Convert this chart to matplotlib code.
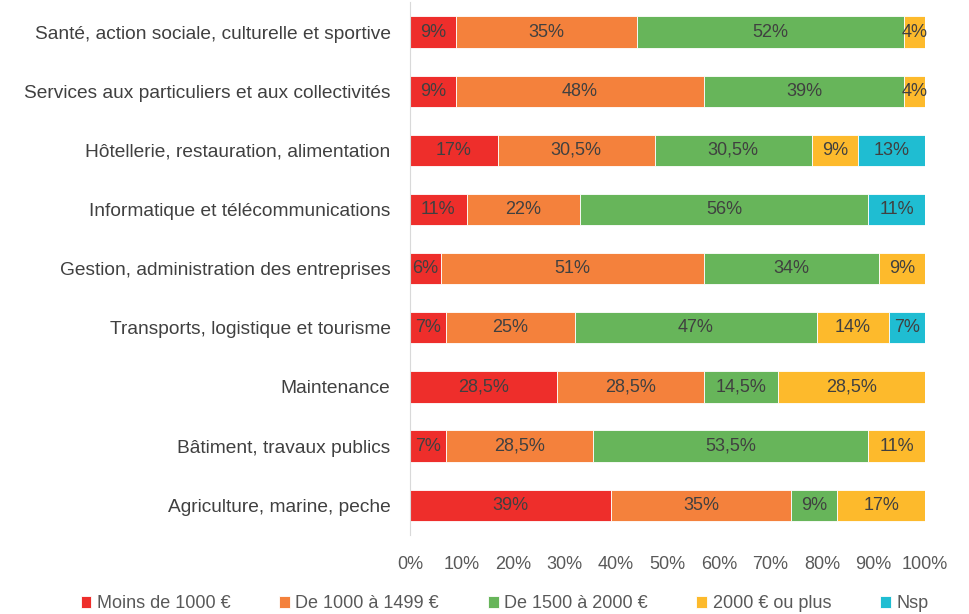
import matplotlib.pyplot as plt
import numpy as np

categories = [
    "Santé, action sociale, culturelle et sportive",
    "Services aux particuliers et aux collectivités",
    "Hôtellerie, restauration, alimentation",
    "Informatique et télécommunications",
    "Gestion, administration des entreprises",
    "Transports, logistique et tourisme",
    "Maintenance",
    "Bâtiment, travaux publics",
    "Agriculture, marine, peche",
]
series_names = ["Moins de 1000 €", "De 1000 à 1499 €", "De 1500 à 2000 €", "2000 € ou plus", "Nsp"]
moins_1000 = [9, 9, 17, 11, 6, 7, 28.5, 7, 39]
de_1000_1499 = [35, 48, 30.5, 22, 51, 25, 28.5, 28.5, 35]
de_1500_2000 = [52, 39, 30.5, 56, 34, 47, 14.5, 53.5, 9]
plus_2000 = [4, 4, 9, 0, 9, 14, 28.5, 11, 17]
nsp = [0, 0, 13, 11, 0, 7, 0, 0, 0]
colors = ["#EE2E2B", "#F4813C", "#67B55A", "#FDBA2C", "#1FBDD2"]

plt.rcParams['font.family'] = ['Liberation Sans', 'DejaVu Sans']

fig = plt.figure(figsize=(9.7, 6.14), dpi=100)
ax = fig.add_axes([0.4227, 0.129, 0.5309, 0.867])

series = [moins_1000, de_1000_1499, de_1500_2000, plus_2000, nsp]
y = np.arange(len(categories))[::-1]
left = np.zeros(len(categories))
for name, vals, col in zip(series_names, series, colors):
    vals = np.array(vals, dtype=float)
    frac = vals / 100.0
    ax.barh(y, frac, left=left, height=0.53, color=col, label=name,
            edgecolor='white', linewidth=0.6)
    for yi, l, f, v in zip(y, left, frac, vals):
        if v > 0:
            txt = f"{v:g}%".replace('.', ',')
            ax.text(l + f / 2, yi, txt, ha='center', va='center', fontsize=13, color='#404040')
    left += frac

ax.set_xlim(0, 1)
ax.set_ylim(-0.5, len(categories) - 0.5)
ax.set_yticks(y)
ax.set_yticklabels(categories, fontsize=13.8, color='#404040')
ax.set_xticks(np.linspace(0, 1, 11))
ax.set_xticklabels([f"{int(t)}%" for t in np.linspace(0, 100, 11)], fontsize=13, color='#595959')
ax.tick_params(axis='both', length=0)
ax.tick_params(axis='x', pad=15)
ax.tick_params(axis='y', pad=14)
for s in ['top', 'right', 'bottom']:
    ax.spines[s].set_visible(False)
ax.spines['left'].set_color('#D9D9D9')

fig.legend(loc='lower center', bbox_to_anchor=(0.52, -0.024), ncol=5, frameon=False,
           fontsize=13, handlelength=0.6, handleheight=0.6, handletextpad=0.3,
           columnspacing=2.7, labelcolor='#595959')

fig.savefig("out.png", dpi=100)
